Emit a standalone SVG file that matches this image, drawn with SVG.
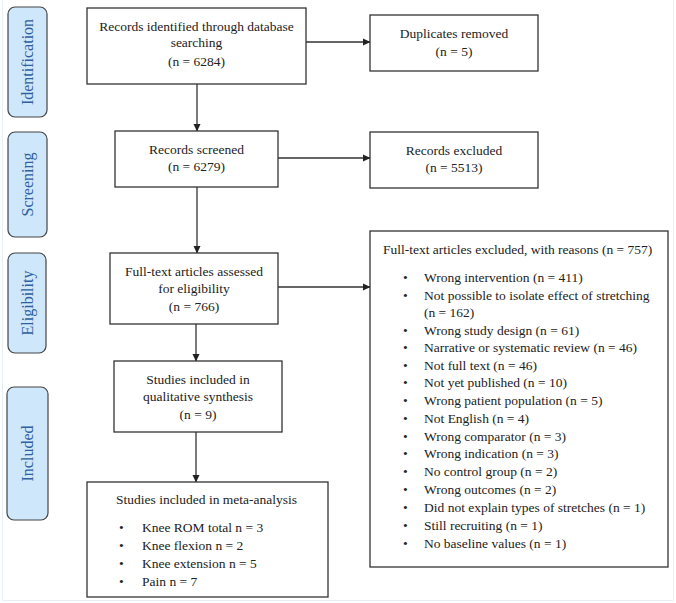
<svg xmlns="http://www.w3.org/2000/svg" width="676" height="603" viewBox="0 0 676 603">
<defs>
<marker id="ah" markerWidth="8" markerHeight="8" refX="7" refY="4" orient="auto" markerUnits="userSpaceOnUse">
<path d="M0,0.5 L7.5,4 L0,7.5 Z" fill="#222"/>
</marker>
</defs>
<style>
.box{fill:#fff;stroke:#333;stroke-width:1.3}
.side{fill:#cfe7fb;stroke:#444;stroke-width:1.2}
.t{font-family:"Liberation Serif","Times New Roman",serif;font-size:13.5px;fill:#222}
.c{text-anchor:middle}
.s{font-family:"Liberation Serif","Times New Roman",serif;font-size:16px;fill:#2e5fa0;text-anchor:middle}
.ln{stroke:#333;stroke-width:1.3;fill:none;marker-end:url(#ah)}
</style>
<rect width="676" height="603" fill="#fff"/>
<path d="M2.5,0 V600.5 H673.5 V0" fill="none" stroke="#e6eef6" stroke-width="1"/>

<g id="side-identification"><rect class="side" x="8" y="7" width="39" height="110" rx="7"/><text class="s" transform="translate(33,62) rotate(-90)">Identification</text></g>
<g id="side-screening"><rect class="side" x="8" y="132" width="39" height="105" rx="7"/><text class="s" transform="translate(33,184.5) rotate(-90)">Screening</text></g>
<g id="side-eligibility"><rect class="side" x="8" y="253" width="38" height="100" rx="7"/><text class="s" transform="translate(32.5,303) rotate(-90)">Eligibility</text></g>
<g id="side-included"><rect class="side" x="7" y="387" width="41" height="133" rx="7"/><text class="s" transform="translate(33,453.5) rotate(-90)">Included</text></g>

<g id="connectors">
<line class="ln" x1="306" y1="42" x2="370" y2="42"/>
<line class="ln" x1="197" y1="84" x2="197" y2="131"/>
<line class="ln" x1="278" y1="158" x2="370" y2="158"/>
<line class="ln" x1="197" y1="187" x2="197" y2="253"/>
<line class="ln" x1="278" y1="287" x2="370" y2="287"/>
<line class="ln" x1="196" y1="324" x2="196" y2="361"/>
<line class="ln" x1="196" y1="432" x2="196" y2="482"/>
</g>

<g id="records-identified"><rect class="box" x="87" y="8" width="219" height="76"/>
<text class="t c" x="196.5" y="30.5">Records identified through database</text>
<text class="t c" x="196.5" y="47">searching</text>
<text class="t c" x="196.5" y="66">(n = 6284)</text></g>

<g id="duplicates"><rect class="box" x="370" y="15" width="168" height="56"/>
<text class="t c" x="454" y="37.5">Duplicates removed</text>
<text class="t c" x="454" y="55.5">(n = 5)</text></g>

<g id="screened"><rect class="box" x="115" y="131" width="163" height="56"/>
<text class="t c" x="196.5" y="153.5">Records screened</text>
<text class="t c" x="196.5" y="170.5">(n = 6279)</text></g>

<g id="records-excluded"><rect class="box" x="370" y="132" width="168" height="56"/>
<text class="t c" x="454" y="154.5">Records excluded</text>
<text class="t c" x="454" y="171.5">(n = 5513)</text></g>

<g id="fulltext-assessed"><rect class="box" x="110" y="253" width="168" height="71"/>
<text class="t c" x="194" y="275.5">Full-text articles assessed</text>
<text class="t c" x="194" y="292.5">for eligibility</text>
<text class="t c" x="194" y="310.5">(n = 766)</text></g>

<g id="qualitative"><rect class="box" x="114" y="361" width="168" height="71"/>
<text class="t c" x="198" y="383.5">Studies included in</text>
<text class="t c" x="198" y="400.5">qualitative synthesis</text>
<text class="t c" x="198" y="418.5">(n = 9)</text></g>

<g id="meta-analysis"><rect class="box" x="87" y="482" width="241" height="115"/>
<text class="t" x="116" y="503.5">Studies included in meta-analysis</text>
<g class="t">
<text x="119" y="531.5">•</text><text x="142" y="531.5">Knee ROM total n = 3</text>
<text x="119" y="550">•</text><text x="142" y="550">Knee flexion n = 2</text>
<text x="119" y="568">•</text><text x="142" y="568">Knee extension n = 5</text>
<text x="119" y="586">•</text><text x="142" y="586">Pain n = 7</text>
</g></g>

<g id="fulltext-excluded"><rect class="box" x="370" y="231" width="298" height="336"/>
<text class="t" x="383" y="253.5">Full-text articles excluded, with reasons (n = 757)</text>
<g class="t">
<text x="403" y="281.5">•</text><text x="424" y="281.5">Wrong intervention (n = 411)</text>
<text x="403" y="299.5">•</text><text x="424" y="299.5">Not possible to isolate effect of stretching</text>
<text x="424" y="317">(n = 162)</text>
<text x="403" y="334.5">•</text><text x="424" y="334.5">Wrong study design (n = 61)</text>
<text x="403" y="352">•</text><text x="424" y="352">Narrative or systematic review (n = 46)</text>
<text x="403" y="369.5">•</text><text x="424" y="369.5">Not full text (n = 46)</text>
<text x="403" y="387">•</text><text x="424" y="387">Not yet published (n = 10)</text>
<text x="403" y="405">•</text><text x="424" y="405">Wrong patient population (n = 5)</text>
<text x="403" y="422.5">•</text><text x="424" y="422.5">Not English (n = 4)</text>
<text x="403" y="440.5">•</text><text x="424" y="440.5">Wrong comparator (n = 3)</text>
<text x="403" y="458">•</text><text x="424" y="458">Wrong indication (n = 3)</text>
<text x="403" y="476">•</text><text x="424" y="476">No control group (n = 2)</text>
<text x="403" y="494">•</text><text x="424" y="494">Wrong outcomes (n = 2)</text>
<text x="403" y="512">•</text><text x="424" y="512">Did not explain types of stretches (n = 1)</text>
<text x="403" y="530">•</text><text x="424" y="530">Still recruiting (n = 1)</text>
<text x="403" y="548">•</text><text x="424" y="548">No baseline values (n = 1)</text>
</g></g>
</svg>
